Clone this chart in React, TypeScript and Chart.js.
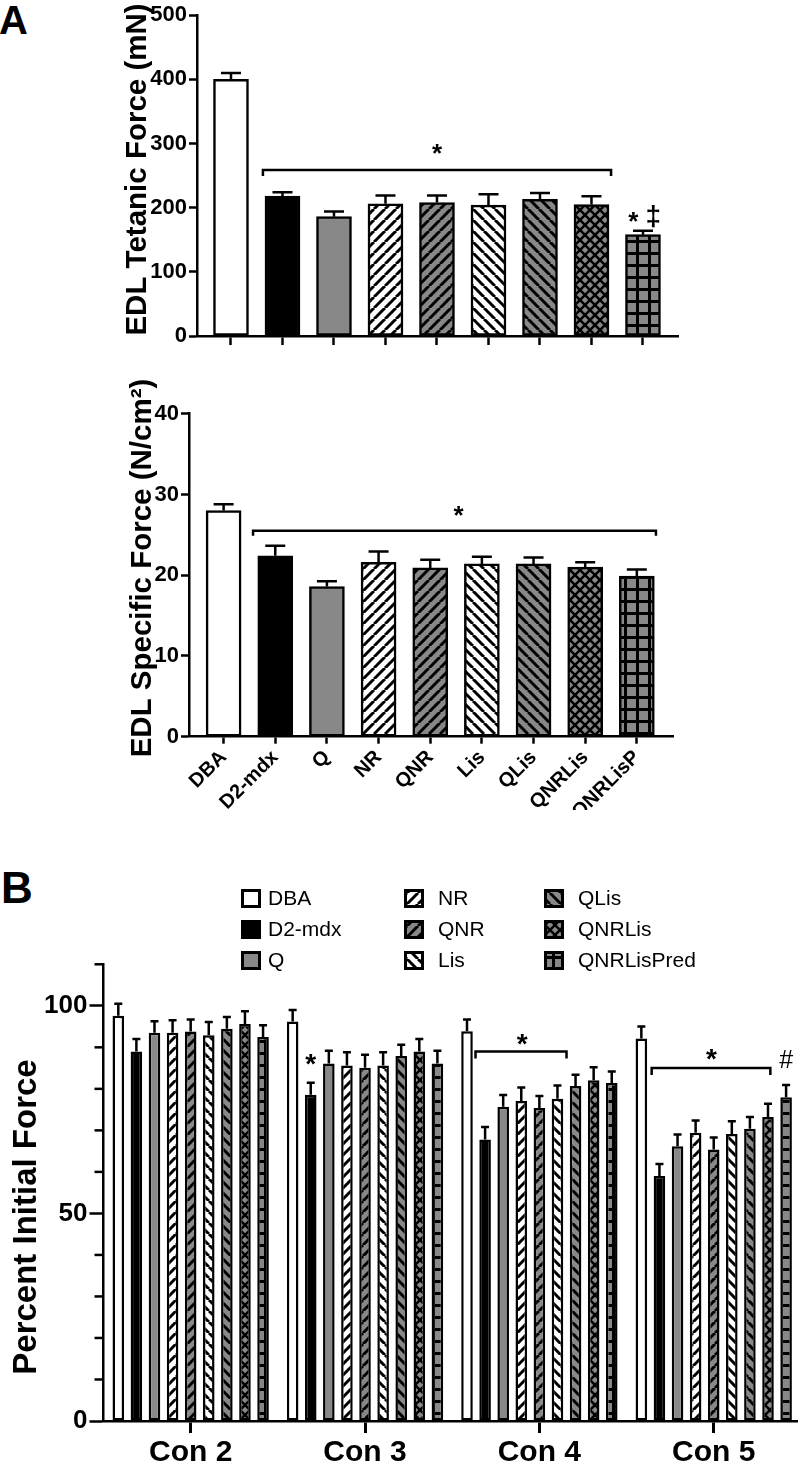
import React, { useEffect, useRef } from 'react';
import { Chart, registerables } from 'chart.js';

Chart.register(...registerables);

const FONT = '"Liberation Sans", Arial, Helvetica, sans-serif';

// ---------- Panel A data ----------
const groupsA = ['DBA', 'D2-mdx', 'Q', 'NR', 'QNR', 'Lis', 'QLis', 'QNRLis', 'QNRLisP'];
const tetanicMeans = [400, 218, 186, 206, 208, 204, 213, 205, 158];
const tetanicSem = [10, 6, 8, 13, 11, 17, 10, 13, 6];
const tetanicTicks = [0, 100, 200, 300, 400, 500];
const specificMeans = [28.0, 22.4, 18.6, 21.6, 20.9, 21.4, 21.4, 21.0, 19.9];
const specificSem = [0.8, 1.25, 0.65, 1.35, 1.0, 0.9, 0.8, 0.6, 0.8];
const specificTicks = [0, 10, 20, 30, 40];

// ---------- Panel B data ----------
const contractions = ['Con 2', 'Con 3', 'Con 4', 'Con 5'];
const legendNames = ['DBA', 'D2-mdx', 'Q', 'NR', 'QNR', 'Lis', 'QLis', 'QNRLis', 'QNRLisPred'];
const pifDBA = [97.6, 96.2, 93.9, 92.1];
const pifD2mdx = [89.0, 78.6, 67.8, 59.0];
const pifQ = [93.5, 86.1, 75.7, 66.2];
const pifNR = [93.5, 85.6, 77.1, 69.4];
const pifQNR = [93.8, 85.1, 75.4, 65.4];
const pifLis = [92.9, 85.6, 77.6, 69.1];
const pifQLis = [94.5, 87.9, 80.7, 70.4];
const pifQNRLis = [95.6, 89.0, 82.1, 73.2];
const pifQNRLisPred = [92.5, 86.1, 81.4, 78.0];
const semDBA = [2.9, 2.8, 2.8, 2.9];
const semD2mdx = [3.0, 2.9, 3.0, 2.9];
const semQ = [2.8, 3.1, 2.8, 2.8];
const semNR = [3.0, 3.2, 3.2, 3.0];
const semQNR = [2.9, 3.1, 2.9, 2.9];
const semLis = [3.2, 3.2, 3.2, 3.1];
const semQLis = [2.8, 2.7, 2.7, 2.8];
const semQNRLis = [3.1, 3.0, 3.1, 3.2];
const semQNRLisPred = [2.8, 3.1, 2.8, 2.9];
const pifTicks = [0, 50, 100];
const pifMinorTicks = [10, 20, 30, 40, 60, 70, 80, 90, 110];

const fillKinds = ['white', 'black', 'gray', 'fwdWhite', 'fwdGray', 'backWhite', 'backGray', 'cross', 'grid'];
const GRAY = '#888888';

function makeFill(kind: string): any {
  if (kind === 'white') return '#ffffff';
  if (kind === 'black') return '#000000';
  if (kind === 'gray') return GRAY;
  const s = kind === 'grid' ? 12 : kind === 'cross' ? 10 : 11;
  const c = document.createElement('canvas');
  c.width = s;
  c.height = s;
  const g = c.getContext('2d')!;
  g.fillStyle = kind.endsWith('White') ? '#ffffff' : GRAY;
  g.fillRect(0, 0, s, s);
  g.strokeStyle = '#000';
  g.fillStyle = '#000';
  g.lineWidth = kind === 'cross' ? 2.5 : 3;
  const fwd = () => {
    for (const k of [-1, 0, 1]) {
      g.beginPath();
      g.moveTo(k * s, s);
      g.lineTo(k * s + s, 0);
      g.stroke();
    }
  };
  const back = () => {
    for (const k of [-1, 0, 1]) {
      g.beginPath();
      g.moveTo(k * s, 0);
      g.lineTo(k * s + s, s);
      g.stroke();
    }
  };
  if (kind.startsWith('fwd')) fwd();
  if (kind.startsWith('back')) back();
  if (kind === 'cross') {
    fwd();
    back();
  }
  if (kind === 'grid') {
    g.fillRect(0, 0, s, 3);
    g.fillRect(0, 0, 3, s);
  }
  return g.createPattern(c, 'repeat');
}

function drawInk(ctx: CanvasRenderingContext2D, text: string, x: number, yc: number, font: string) {
  ctx.save();
  ctx.font = font;
  ctx.fillStyle = '#000';
  ctx.textAlign = 'center';
  ctx.textBaseline = 'alphabetic';
  const m = ctx.measureText(text);
  const base = yc + (m.actualBoundingBoxAscent - m.actualBoundingBoxDescent) / 2;
  ctx.fillText(text, x, base);
  ctx.restore();
}

// rotated axis title, centred on (cx, cy) with cap height centred on cx
function drawVTitle(ctx: CanvasRenderingContext2D, text: string, cx: number, cy: number, size: number) {
  ctx.save();
  ctx.font = `bold ${size}px ${FONT}`;
  ctx.fillStyle = '#000';
  ctx.textAlign = 'center';
  ctx.textBaseline = 'alphabetic';
  ctx.translate(cx, cy);
  ctx.rotate(-Math.PI / 2);
  ctx.fillText(text, 0, size * 0.716 / 2);
  ctx.restore();
}

function drawBracket(ctx: CanvasRenderingContext2D, x1: number, x2: number, y: number, tick: number) {
  ctx.save();
  ctx.strokeStyle = '#000';
  ctx.lineWidth = 2.5;
  ctx.lineJoin = 'miter';
  ctx.beginPath();
  ctx.moveTo(x1, y + tick);
  ctx.lineTo(x1, y);
  ctx.lineTo(x2, y);
  ctx.lineTo(x2, y + tick);
  ctx.stroke();
  ctx.restore();
}

const errorBars = (cap: number, lw: number) => ({
  id: 'errorBars',
  afterDatasetsDraw(chart: any) {
    const ctx = chart.ctx;
    const ys = chart.scales.y;
    chart.data.datasets.forEach((ds: any, di: number) => {
      const meta = chart.getDatasetMeta(di);
      meta.data.forEach((el: any, i: number) => {
        const raw = ds.data[i];
        const v = typeof raw === 'number' ? raw : raw.y;
        const yTop = ys.getPixelForValue(v + ds.errors[i]);
        ctx.save();
        ctx.strokeStyle = '#000';
        ctx.lineWidth = lw;
        ctx.beginPath();
        ctx.moveTo(el.x, el.y);
        ctx.lineTo(el.x, yTop);
        ctx.moveTo(el.x - cap / 2, yTop);
        ctx.lineTo(el.x + cap / 2, yTop);
        ctx.stroke();
        ctx.restore();
      });
    });
  },
});

type AMarks = {
  title: { text: string; cx: number; cy: number; size: number };
  brackets: { from: number; to: number; v: number; tick: number }[];
  texts: { t: string; x: number; v: number; font: string }[];
};

function makeA(
  canvas: HTMLCanvasElement,
  pats: any[],
  means: number[],
  sems: number[],
  yTicks: number[],
  yMax: number,
  showLabels: boolean,
  pad: any,
  yWidth: number,
  xHeight: number,
  xMin: number,
  xMax: number,
  tickLen: number,
  marks: AMarks
) {
  const marksPlugin = {
    id: 'marksA',
    afterDraw(chart: any) {
      const ctx = chart.ctx;
      const xs = chart.scales.x;
      const ys = chart.scales.y;
      drawVTitle(ctx, marks.title.text, marks.title.cx, marks.title.cy, marks.title.size);
      marks.brackets.forEach((b) =>
        drawBracket(ctx, xs.getPixelForValue(b.from), xs.getPixelForValue(b.to), ys.getPixelForValue(b.v), b.tick)
      );
      marks.texts.forEach((t) => drawInk(ctx, t.t, xs.getPixelForValue(t.x), ys.getPixelForValue(t.v), t.font));
    },
  };
  return new Chart(canvas, {
    type: 'bar',
    data: {
      datasets: [
        {
          data: means.map((v, i) => ({ x: i, y: v })),
          errors: sems,
          backgroundColor: pats,
          borderColor: '#000',
          borderWidth: 2.5,
          barThickness: 35,
          borderSkipped: false,
        } as any,
      ],
    },
    options: {
      animation: false,
      responsive: false,
      events: [],
      layout: { padding: pad },
      plugins: { legend: { display: false }, tooltip: { enabled: false } },
      scales: {
        x: {
          type: 'linear',
          min: xMin,
          max: xMax,
          offset: false,
          afterBuildTicks: (s: any) => {
            s.ticks = groupsA.map((_, i) => ({ value: i }));
          },
          afterFit: (s: any) => {
            s.height = xHeight;
          },
          ticks: {
            callback: (v: any) => (showLabels ? groupsA[v] : ''),
            minRotation: 45,
            maxRotation: 45,
            autoSkip: false,
            font: { size: 20, weight: 'bold', family: FONT },
            color: '#000',
            padding: 2,
          },
          grid: {
            offset: false,
            drawOnChartArea: false,
            drawTicks: true,
            tickLength: tickLen,
            tickWidth: 2.5,
            tickColor: '#000',
          },
          border: { display: true, color: '#000', width: 2.5 },
        } as any,
        y: {
          min: 0,
          max: yMax,
          afterBuildTicks: (s: any) => {
            s.ticks = yTicks.map((v) => ({ value: v }));
          },
          afterFit: (s: any) => {
            s.width = yWidth;
          },
          ticks: { font: { size: 22, weight: 'bold', family: FONT }, color: '#000', padding: 2 },
          grid: { drawOnChartArea: false, tickLength: 8, tickWidth: 2.5, tickColor: '#000' },
          border: { display: true, color: '#000', width: 2.5 },
        } as any,
      },
    } as any,
    plugins: [errorBars(20, 2.5), marksPlugin],
  });
}

function makeB(canvas: HTMLCanvasElement, pats: any[]) {
  const series = [pifDBA, pifD2mdx, pifQ, pifNR, pifQNR, pifLis, pifQLis, pifQNRLis, pifQNRLisPred];
  const sems = [semDBA, semD2mdx, semQ, semNR, semQNR, semLis, semQLis, semQNRLis, semQNRLisPred];
  const barX = (chart: any, group: number, k: number) => {
    const x0 = chart.getDatasetMeta(0).data[group].x;
    const x8 = chart.getDatasetMeta(8).data[group].x;
    return x0 + (k * (x8 - x0)) / 8;
  };
  const bBrackets = [
    { group: 2, from: 0.47, to: 5.5, v: 89.0, tick: 7 },
    { group: 3, from: 0.57, to: 7.13, v: 85.0, tick: 7 },
  ];
  const bTexts = [
    { t: '*', group: 1, k: 1, v: 87.1, font: `bold 28px ${FONT}` },
    { t: '*', group: 2, k: 3.05, v: 91.8, font: `bold 28px ${FONT}` },
    { t: '*', group: 3, k: 3.87, v: 88.3, font: `bold 28px ${FONT}` },
    { t: '#', group: 3, k: 8, v: 87.3, font: `25px ${FONT}` },
  ];
  const marksPlugin = {
    id: 'marksB',
    afterDraw(chart: any) {
      const ctx = chart.ctx;
      const ys = chart.scales.y;
      drawVTitle(ctx, 'Percent Initial Force', 24, 357, 33);
      // minor y ticks
      ctx.save();
      ctx.strokeStyle = '#000';
      ctx.lineWidth = 2.5;
      pifMinorTicks.forEach((v) => {
        const y = ys.getPixelForValue(v);
        ctx.beginPath();
        ctx.moveTo(chart.chartArea.left - 9, y);
        ctx.lineTo(chart.chartArea.left, y);
        ctx.stroke();
      });
      ctx.restore();
      bBrackets.forEach((b) =>
        drawBracket(ctx, barX(chart, b.group, b.from), barX(chart, b.group, b.to), ys.getPixelForValue(b.v), b.tick)
      );
      bTexts.forEach((t) => drawInk(ctx, t.t, barX(chart, t.group, t.k), ys.getPixelForValue(t.v), t.font));
      // legend (3 columns, column-major order)
      const boxX = [241, 404, 544];
      const textX = [268, 438, 578];
      const rowTop = 29;
      const rowGap = 31;
      legendNames.forEach((name, i) => {
        const col = Math.floor(i / 3);
        const row = i % 3;
        const bx = boxX[col];
        const by = rowTop + row * rowGap;
        ctx.save();
        ctx.fillStyle = pats[i];
        ctx.fillRect(bx, by, 20, 19);
        ctx.strokeStyle = '#000';
        ctx.lineWidth = 3;
        ctx.strokeRect(bx + 1.5, by + 1.5, 17, 16);
        ctx.fillStyle = '#000';
        ctx.font = `21px ${FONT}`;
        ctx.textAlign = 'left';
        ctx.textBaseline = 'middle';
        ctx.fillText(name, textX[col], by + 10);
        ctx.restore();
      });
    },
  };
  return new Chart(canvas, {
    type: 'bar',
    data: {
      labels: contractions,
      datasets: series.map((d, j) => ({
        label: legendNames[j],
        data: d,
        errors: sems[j],
        backgroundColor: pats[j],
        borderColor: '#000',
        borderWidth: 2.5,
        borderSkipped: false,
        categoryPercentage: 0.934,
        barPercentage: 0.64,
      })) as any,
    },
    options: {
      animation: false,
      responsive: false,
      events: [],
      layout: { padding: { left: 4, top: 104.3, right: 5.1, bottom: 0 } },
      plugins: { legend: { display: false }, tooltip: { enabled: false } },
      scales: {
        x: {
          afterFit: (s: any) => {
            s.height = 49;
          },
          ticks: { font: { size: 30, weight: 'bold', family: FONT }, color: '#000', padding: 2 },
          grid: { offset: false, drawOnChartArea: false, tickLength: 12, tickWidth: 3, tickColor: '#000' },
          border: { display: true, color: '#000', width: 2.5 },
        },
        y: {
          min: 0,
          max: 110,
          afterBuildTicks: (s: any) => {
            s.ticks = pifTicks.map((v) => ({ value: v }));
          },
          afterFit: (s: any) => {
            s.width = 99.5;
          },
          ticks: { font: { size: 26, weight: 'bold', family: FONT }, color: '#000', padding: 2 },
          grid: { drawOnChartArea: false, tickLength: 14, tickWidth: 2.5, tickColor: '#000' },
          border: { display: true, color: '#000', width: 2.5 },
        },
      },
    } as any,
    plugins: [errorBars(8, 2.5), marksPlugin],
  });
}

export default function App() {
  const r1 = useRef<HTMLCanvasElement>(null);
  const r2 = useRef<HTMLCanvasElement>(null);
  const r3 = useRef<HTMLCanvasElement>(null);

  useEffect(() => {
    Chart.defaults.font.family = FONT;
    Chart.defaults.color = '#000';
    const pats = fillKinds.map(makeFill);
    const c1 = makeA(
      r1.current!,
      pats,
      tetanicMeans,
      tetanicSem,
      tetanicTicks,
      500,
      false,
      { left: 117, top: 15, right: 120, bottom: 0 },
      80,
      24,
      -0.66,
      8.68,
      9,
      {
        title: { text: 'EDL Tetanic Force (mN)', cx: 135, cy: 169.5, size: 29.5 },
        brackets: [{ from: 0.62, to: 7.38, v: 258.8, tick: 6 }],
        texts: [
          { t: '*', x: 4, v: 291.6, font: `bold 26px ${FONT}` },
          { t: '*', x: 7.81, v: 185.5, font: `bold 26px ${FONT}` },
          { t: '\u2021', x: 8.2, v: 186.3, font: `bold 28px ${FONT}` },
        ],
      }
    );
    const c2 = makeA(
      r2.current!,
      pats,
      specificMeans,
      specificSem,
      specificTicks,
      40,
      true,
      { left: 124, top: 53.7, right: 125, bottom: 0 },
      65,
      73.3,
      -0.67,
      8.7,
      7,
      {
        title: { text: 'EDL Specific Force (N/cm\u00B2)', cx: 140, cy: 208, size: 29.5 },
        brackets: [{ from: 0.57, to: 8.37, v: 25.5, tick: 5 }],
        texts: [{ t: '*', x: 4.55, v: 28.0, font: `bold 26px ${FONT}` }],
      }
    );
    const c3 = makeB(r3.current!, pats);
    return () => {
      c1.destroy();
      c2.destroy();
      c3.destroy();
    };
  }, []);

  return (
    <div
      style={{
        position: 'absolute',
        left: 0,
        top: 0,
        width: 798,
        height: 1470,
        overflow: 'hidden',
        background: '#fff',
      }}
    >
      <div style={{ position: 'absolute', left: -1, top: 0, font: `bold 40px ${FONT}`, lineHeight: '40px', color: '#000' }}>
        A
      </div>
      <div style={{ position: 'absolute', left: 1, top: 866, font: `bold 44px ${FONT}`, lineHeight: '44px', color: '#000' }}>
        B
      </div>
      <canvas ref={r1} width={798} height={360} style={{ position: 'absolute', left: 0, top: 0 }} />
      <canvas ref={r2} width={798} height={450} style={{ position: 'absolute', left: 0, top: 360 }} />
      <canvas ref={r3} width={806} height={610} style={{ position: 'absolute', left: 0, top: 860 }} />
    </div>
  );
}
